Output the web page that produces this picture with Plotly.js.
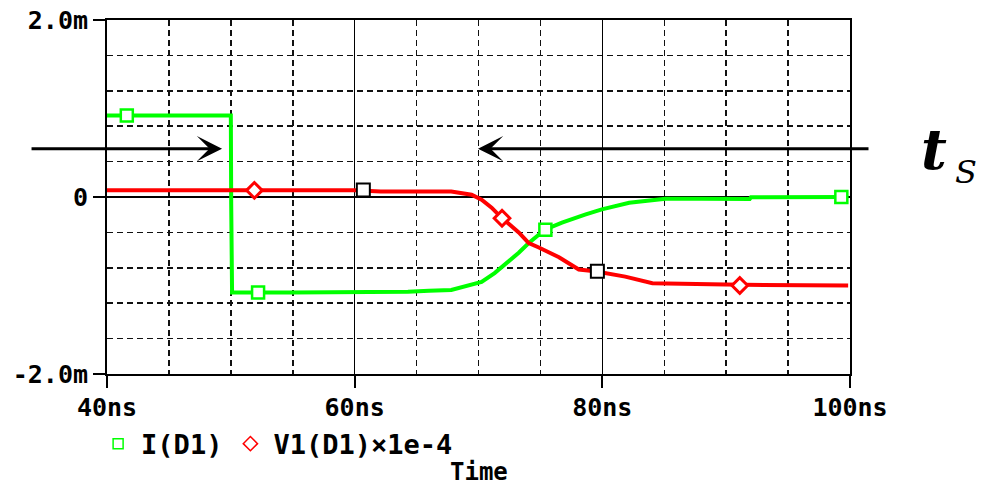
<!DOCTYPE html>
<html>
<head>
<meta charset="utf-8">
<script src="https://cdn.plot.ly/plotly-3.0.1.min.js"></script>
<style>
html,body{margin:0;padding:0;background:#ffffff;}
#chart{width:982px;height:488px;}
</style>
</head>
<body>
<div id="chart"></div>
<script>
// ---- data (time in ns, values in mA) ----
var greenT = [40, 50.0, 50.03, 50.1, 55, 60, 64.3, 66, 67.8, 70.25, 71.3, 73.25, 74.06, 75.36, 76.74, 78.6, 79.96, 82.17, 85.1, 88, 91.9, 92.0, 96, 99.85];
var greenI = [0.92, 0.92, -0.08, -1.08, -1.08, -1.08, -1.07, -1.06, -1.05, -0.96, -0.86, -0.63, -0.52, -0.37, -0.29, -0.20, -0.14, -0.065, -0.02, -0.02, -0.023, -0.003, -0.003, 0.0];

var redT = [40, 50, 55, 60, 62.1, 65, 67.8, 69.44, 70.25, 71.06, 71.87, 73.25, 74.06, 74.87, 76.5, 78.1, 79.4, 81.85, 84.04, 89.96, 95, 99.85];
var redV = [0.075, 0.075, 0.075, 0.075, 0.063, 0.063, 0.063, 0.025, -0.03, -0.12, -0.235, -0.40, -0.52, -0.57, -0.68, -0.82, -0.84, -0.90, -0.975, -0.99, -1.0, -1.0];

var greenMarkT = [41.6, 52.2, 75.4, 99.3];
var greenMarkI = [0.92, -1.08, -0.37, 0.0];
var redMarkT = [51.9, 71.9, 91.1];
var redMarkV = [0.075, -0.24, -1.0];
var blackMarkT = [60.7, 79.6];
var blackMarkV = [0.08, -0.84];

var xTickVals = [40, 60, 80, 100];
var xTickText = ["40ns", "60ns", "80ns", "100ns"];
var yTickVals = [-2, 0, 2];
var yTickText = ["-2.0m", "0", "2.0m"];

var seriesNames = ["I(D1)", "V1(D1)\u00d71e-4"];
var axisTitle = "Time";
var annoMain = "t";
var annoSub = "S";

// ---- styling ----
var GREEN = "#00ff00", RED = "#ff0000";
var monoFont = {family: "DejaVu Sans Mono", size: 25, color: "#000", weight: "bold"};
var legendFont = {family: "DejaVu Sans Mono", size: 27, color: "#000", weight: "bold"};
var titleFont = {family: "DejaVu Sans Mono", size: 24, color: "#000", weight: "bold"};

var traces = [
  {x: greenT, y: greenI, mode: "lines", line: {color: GREEN, width: 4}, showlegend: false, hoverinfo: "skip"},
  {x: redT, y: redV, mode: "lines", line: {color: RED, width: 4}, showlegend: false, hoverinfo: "skip"},
  {x: greenMarkT, y: greenMarkI, mode: "markers", showlegend: false,
   marker: {symbol: "square", size: 12, color: "#ffffff", line: {color: GREEN, width: 2.5}}},
  {x: redMarkT, y: redMarkV, mode: "markers", showlegend: false,
   marker: {symbol: "diamond", size: 12, color: "#ffffff", line: {color: RED, width: 3}}},
  {x: blackMarkT, y: blackMarkV, mode: "markers", showlegend: false,
   marker: {symbol: "square", size: 13, color: "#ffffff", line: {color: "#000", width: 2}}},
  // legend entries
  {x: [null], y: [null], mode: "markers", name: seriesNames[0],
   marker: {symbol: "square", size: 10, color: "#ffffff", line: {color: GREEN, width: 1.5}}},
  {x: [null], y: [null], mode: "markers", name: seriesNames[1],
   marker: {symbol: "diamond", size: 11, color: "#ffffff", line: {color: RED, width: 1.5}}}
];

var layout = {
  width: 982, height: 488,
  margin: {l: 107, r: 132, t: 20, b: 114, pad: 0},
  paper_bgcolor: "#ffffff", plot_bgcolor: "#ffffff",
  showlegend: true,
  legend: {orientation: "h", x: -0.016, y: -0.198, xanchor: "left", yanchor: "middle",
           bgcolor: "rgba(0,0,0,0)", font: legendFont, itemwidth: 36},
  xaxis: {
    range: [40, 100], tickmode: "array", tickvals: xTickVals, ticktext: xTickText,
    showgrid: true, gridcolor: "#000", gridwidth: 1.5, zeroline: false,
    showline: true, linecolor: "#000", linewidth: 2, mirror: true,
    ticks: "outside", ticklen: 12, tickwidth: 2, tickcolor: "#000",
    tickfont: monoFont, ticklabelstandoff: -2,
    minor: {tick0: 40, dtick: 5, showgrid: true, gridcolor: "#111", gridwidth: 1.5, griddash: "6px,4px", ticks: ""},
    fixedrange: true
  },
  yaxis: {
    range: [-2, 2], tickmode: "array", tickvals: yTickVals, ticktext: yTickText,
    showgrid: true, gridcolor: "#000", gridwidth: 1.5, zeroline: false,
    showline: true, linecolor: "#000", linewidth: 2, mirror: true,
    ticks: "outside", ticklen: 12, tickwidth: 2, tickcolor: "#000",
    tickfont: monoFont, ticklabelstandoff: 0,
    minor: {tick0: 0, dtick: 0.4, showgrid: true, gridcolor: "#111", gridwidth: 1.5, griddash: "6px,4px", ticks: ""},
    fixedrange: true
  },
  annotations: [
    {x: 49.29, y: 0.546, xref: "x", yref: "y", ax: -192, ay: 0, text: "", showarrow: true,
     arrowhead: 3, arrowsize: 1.4, arrowwidth: 3, arrowcolor: "#000"},
    {x: 69.96, y: 0.546, xref: "x", yref: "y", ax: 392, ay: 0, text: "", showarrow: true,
     arrowhead: 3, arrowsize: 1.4, arrowwidth: 3, arrowcolor: "#000"},
    {x: 1.113, y: 0.637, xref: "paper", yref: "paper", xanchor: "center", yanchor: "middle",
     text: "<b><i>" + annoMain + "</i></b>", showarrow: false,
     font: {family: "DejaVu Serif", size: 56, color: "#000"}},
    {x: 1.156, y: 0.57, xref: "paper", yref: "paper", xanchor: "center", yanchor: "middle",
     text: "<i>" + annoSub + "</i>", showarrow: false,
     font: {family: "DejaVu Serif", size: 32, color: "#000"}},
    {x: 0.5, y: -0.277, xref: "paper", yref: "paper", xanchor: "center", yanchor: "middle",
     text: axisTitle, showarrow: false, font: titleFont}
  ]
};

Plotly.newPlot("chart", traces, layout, {staticPlot: true, displayModeBar: false});
</script>
</body>
</html>
